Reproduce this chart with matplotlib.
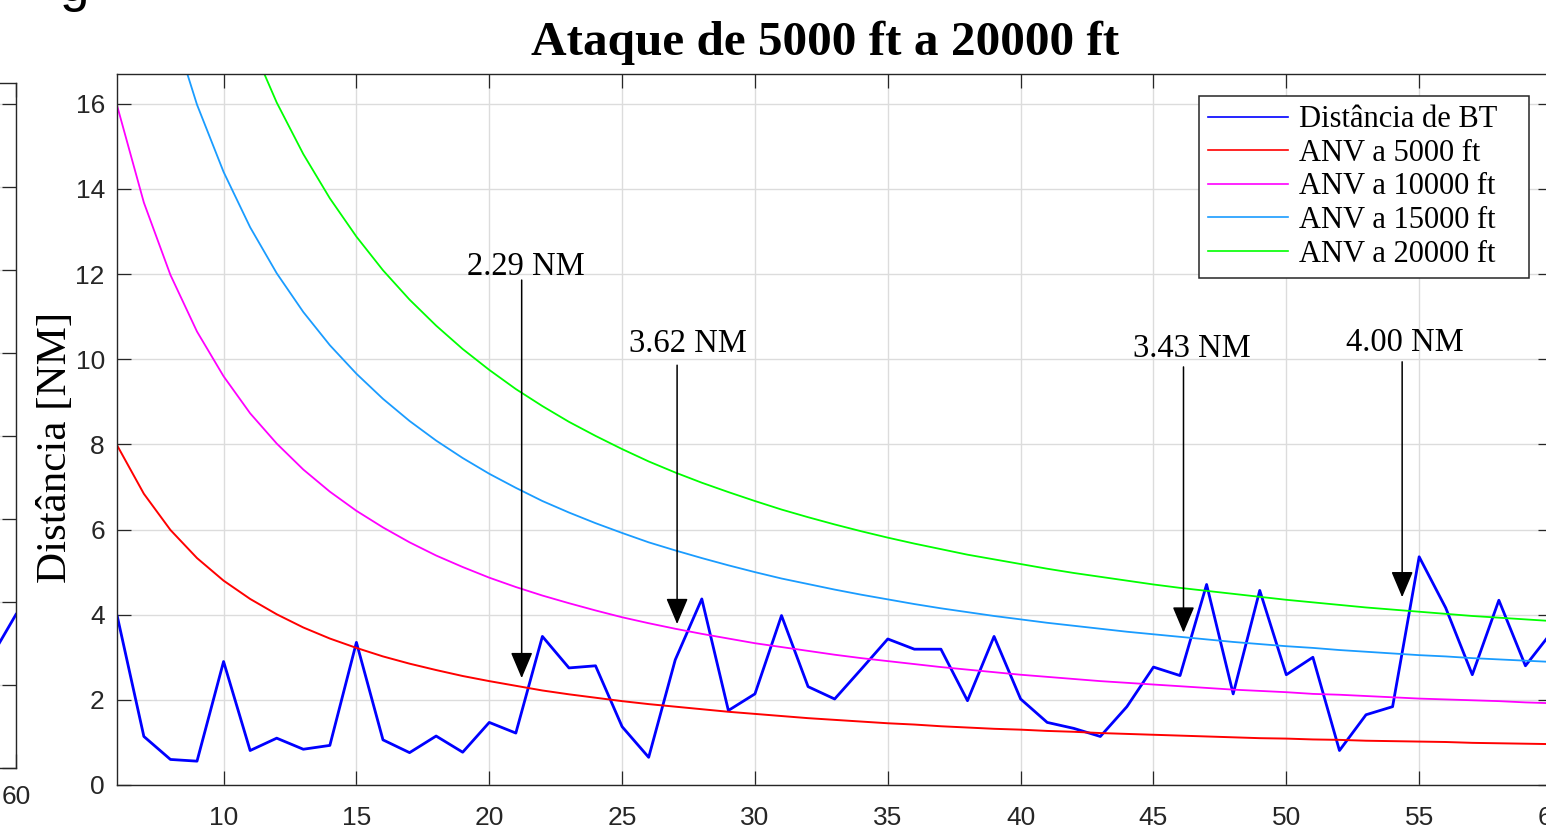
import matplotlib
matplotlib.use("Agg")
import matplotlib.pyplot as plt
import numpy as np

# ---------------- data ----------------
angles = np.arange(6, 61)  # x axis, integer steps 6..60

dist_bt = [3.96, 1.14, 0.60, 0.56, 2.90, 0.81, 1.10, 0.84, 0.93, 3.35,
           1.06, 0.76, 1.15, 0.77, 1.47, 1.22, 3.49, 2.75, 2.80, 1.37,
           0.65, 2.94, 4.37, 1.75, 2.14, 3.98, 2.31, 2.02, 2.72, 3.43,
           3.19, 3.19, 1.98, 3.49, 2.02, 1.47, 1.33, 1.14, 1.84, 2.77,
           2.57, 4.71, 2.14, 4.57, 2.59, 3.00, 0.81, 1.65, 1.84, 5.36,
           4.16, 2.59, 4.34, 2.80, 3.60]

anv_5000 = [7.97, 6.84, 5.99, 5.33, 4.80, 4.37, 4.01, 3.70, 3.44, 3.22,
            3.02, 2.85, 2.70, 2.56, 2.44, 2.33, 2.22, 2.13, 2.05, 1.97,
            1.90, 1.84, 1.78, 1.72, 1.67, 1.62, 1.57, 1.53, 1.49, 1.45,
            1.42, 1.38, 1.35, 1.32, 1.30, 1.27, 1.25, 1.22, 1.20, 1.18,
            1.16, 1.14, 1.12, 1.10, 1.09, 1.07, 1.06, 1.04, 1.03, 1.02,
            1.01, 0.99, 0.98, 0.97, 0.96]

anv_10000 = [15.94, 13.68, 11.98, 10.65, 9.60, 8.73, 8.02, 7.41, 6.89, 6.44,
             6.05, 5.70, 5.39, 5.12, 4.87, 4.65, 4.45, 4.27, 4.10, 3.94,
             3.80, 3.67, 3.55, 3.44, 3.33, 3.24, 3.15, 3.06, 2.98, 2.91,
             2.84, 2.77, 2.71, 2.65, 2.59, 2.54, 2.49, 2.44, 2.40, 2.36,
             2.32, 2.28, 2.24, 2.21, 2.18, 2.14, 2.12, 2.09, 2.06, 2.03,
             2.01, 1.99, 1.97, 1.94, 1.92]

anv_15000 = [23.92, 20.51, 17.96, 15.98, 14.40, 13.10, 12.02, 11.11, 10.33, 9.66,
             9.07, 8.55, 8.09, 7.68, 7.31, 6.98, 6.67, 6.40, 6.15, 5.92,
             5.70, 5.51, 5.33, 5.16, 5.00, 4.85, 4.72, 4.59, 4.47, 4.36,
             4.25, 4.15, 4.06, 3.97, 3.89, 3.81, 3.74, 3.67, 3.60, 3.54,
             3.48, 3.42, 3.36, 3.31, 3.26, 3.22, 3.17, 3.13, 3.09, 3.05,
             3.02, 2.98, 2.95, 2.92, 2.89]

anv_20000 = [31.89, 27.35, 23.95, 21.31, 19.20, 17.47, 16.03, 14.82, 13.78, 12.88,
             12.09, 11.40, 10.79, 10.24, 9.75, 9.30, 8.90, 8.53, 8.20, 7.89,
             7.60, 7.34, 7.10, 6.88, 6.67, 6.47, 6.29, 6.12, 5.96, 5.81,
             5.67, 5.54, 5.41, 5.30, 5.19, 5.08, 4.98, 4.89, 4.80, 4.71,
             4.63, 4.56, 4.49, 4.42, 4.35, 4.29, 4.23, 4.17, 4.12, 4.07,
             4.02, 3.97, 3.93, 3.89, 3.85]

series_labels = ["Distância de BT", "ANV a 5000 ft", "ANV a 10000 ft",
                 "ANV a 15000 ft", "ANV a 20000 ft"]

# annotations (label, label centre x, label baseline y, arrow x, tail y, tip y)
ann_labels = ["2.29 NM", "3.62 NM", "3.43 NM", "4.00 NM"]
ann_text_x = [21.37, 27.47, 46.43, 54.46]
ann_text_y = [11.98, 10.16, 10.05, 10.19]
ann_arrow_x = [21.22, 27.07, 46.13, 54.36]
ann_tail_y = [11.86, 9.86, 9.82, 9.94]
ann_tip_y = [2.51, 3.78, 3.58, 4.41]

# neighbouring (cut-off) panel on the left
left_x = [58, 59, 60]
left_y = [3.00, 2.60, 3.70]

x_ticks = [10, 15, 20, 25, 30, 35, 40, 45, 50, 55, 60]
y_ticks = [0, 2, 4, 6, 8, 10, 12, 14, 16]

# ---------------- styling ----------------
W, H = 1546, 831
AX_COL = "#262626"
GRID_COL = "#dcdcdc"
SERIF = ["Liberation Serif", "DejaVu Serif"]
SANS = ["Liberation Sans", "DejaVu Sans"]
colors = ["#0000ff", "#ff0000", "#ff00ff", "#1a9cff", "#00ff00"]
widths = [2.0, 1.4, 1.3, 1.3, 1.3]


def px_rect(l, r, t, b):
    return [l / W, (H - b) / H, (r - l) / W, (b - t) / H]


def style_axes(a):
    for s in a.spines.values():
        s.set_color(AX_COL)
        s.set_linewidth(1.0)
    a.tick_params(direction="in", length=10, width=0.9, top=True, right=True,
                  colors=AX_COL, labelsize=19)
    for lab in a.get_xticklabels() + a.get_yticklabels():
        lab.set_family(SANS)
    a.grid(True, color=GRID_COL, linewidth=1.0)
    a.set_axisbelow(True)


fig = plt.figure(figsize=(W / 100, H / 100), dpi=100)

# left (cut-off) panel: only its right edge is visible
axl = fig.add_axes(px_rect(16 - 1435, 16, 83, 768))
axl.plot(left_x, left_y, color=colors[0], linewidth=widths[0])
axl.set_xlim(6, 60)
axl.set_ylim(0, 16.5)
axl.set_xticks(x_ticks)
axl.set_xticklabels([""] * (len(x_ticks) - 1) + ["60"])
axl.set_yticks(y_ticks)
style_axes(axl)
axl.tick_params(axis="x", pad=12)
axl.tick_params(axis="y", labelleft=False)

# main panel
ax = fig.add_axes(px_rect(117.3, 1552, 74, 785))
all_series = [dist_bt, anv_5000, anv_10000, anv_15000, anv_20000]
for vals, lab, c, lw in zip(all_series, series_labels, colors, widths):
    ax.plot(angles, vals, color=c, linewidth=lw, label=lab)

ax.set_xlim(6, 60)
ax.set_ylim(0, 16.7)
ax.set_xticks(x_ticks)
ax.set_yticks(y_ticks)
style_axes(ax)
ax.tick_params(axis="x", pad=15)
ax.tick_params(axis="y", pad=9)

ax.set_title("Ataque de 5000 ft a 20000 ft", fontsize=35.5, fontweight="bold",
             family=SERIF, x=0.4937, pad=14, color="black")

ax.set_ylabel("Distância [NM]", fontsize=31, family=SERIF, color="black")
ax.yaxis.set_label_coords(-0.0295, 0.4754)

for lab, tx, ty, axx, tail, tip in zip(ann_labels, ann_text_x, ann_text_y,
                                       ann_arrow_x, ann_tail_y, ann_tip_y):
    ax.annotate("", xy=(axx, tip), xytext=(axx, tail),
                arrowprops=dict(arrowstyle="-|>,head_length=0.9,head_width=0.38",
                                mutation_scale=18, color="black", lw=1.1,
                                shrinkA=0, shrinkB=0))
    ax.text(tx, ty, lab, ha="center", va="baseline", fontsize=23.5,
            family=SERIF, color="black")

leg = ax.legend(loc="upper left", bbox_to_anchor=(0.754, 0.5, 0.230, 0.469),
                mode="expand", borderaxespad=0, prop={"family": SERIF, "size": 22},
                handlelength=2.6, handletextpad=0.36, labelspacing=0.15,
                borderpad=0.3, fancybox=False, framealpha=1, edgecolor=AX_COL)
leg.get_frame().set_linewidth(1.1)
for t in leg.get_texts():
    t.set_color("black")
for h in leg.get_lines():
    h.set_linewidth(1.2)

# fragment of neighbouring panel title (top-left corner)
fig.text(60 / W, (H - 1) / H, "g", fontsize=38, family=SANS, va="baseline",
         ha="left", color="black")

fig.savefig("out.png", dpi=100)
